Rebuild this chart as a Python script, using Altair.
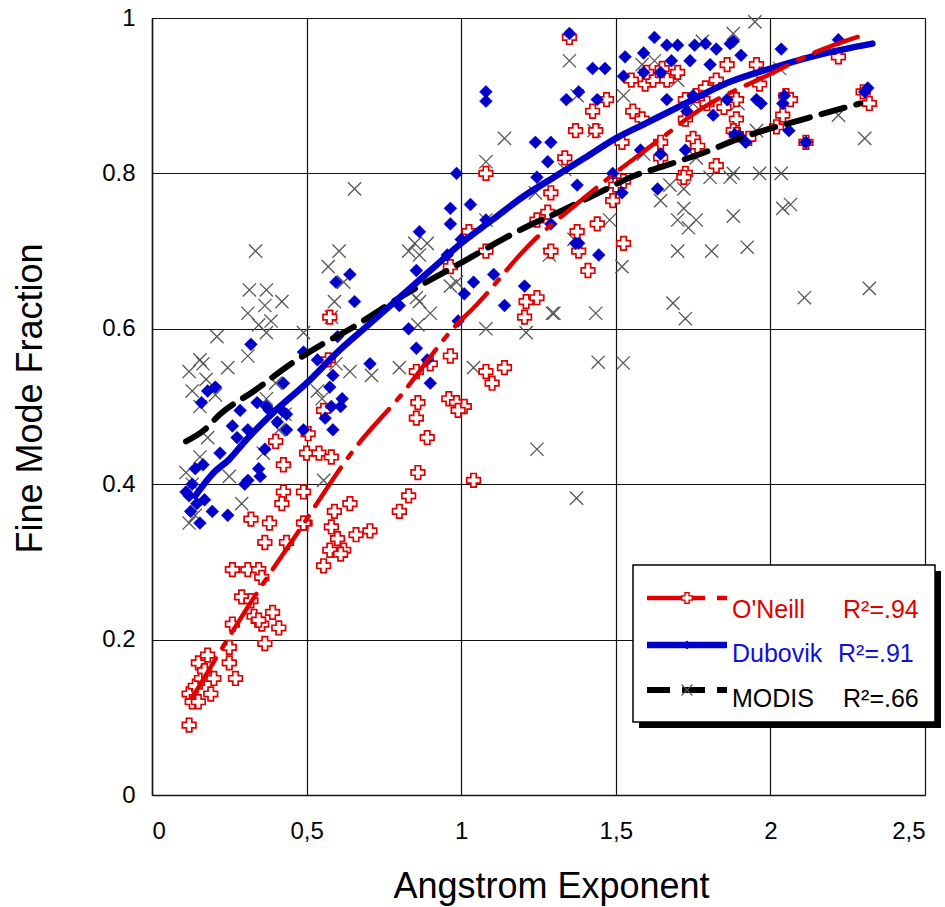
import altair as alt
import pandas as pd

# ---------------- data ----------------
oneill_x = [0.12, 0.12, 0.13, 0.15, 0.14, 0.16, 0.15, 0.18, 0.17, 0.19, 0.20, 0.25, 0.27, 0.25, 0.26,
            0.29, 0.32, 0.33, 0.355, 0.365, 0.39, 0.41, 0.345, 0.26, 0.31, 0.345, 0.355, 0.365, 0.435,
            0.38, 0.495, 0.58, 0.60, 0.575, 0.62, 0.555, 0.83, 0.80, 0.64, 0.59, 0.66, 0.705, 0.61,
            1.04, 1.21, 1.245, 1.205, 0.965, 0.90, 0.855, 1.14, 1.08, 1.10, 0.96, 0.985, 1.01, 0.99,
            0.86, 0.855, 0.89, 0.86, 0.57, 0.555, 0.505, 0.40, 0.50, 0.54, 0.58, 0.425, 0.425, 0.49,
            0.42, 0.32, 0.49, 0.575, 1.08, 1.37, 1.335, 1.29, 1.28, 1.245, 1.375, 1.29, 1.38, 1.025,
            1.08, 0.965, 1.35, 1.47, 1.425, 1.435, 1.44, 1.41, 1.525, 1.49, 1.50, 1.525, 1.52, 1.555,
            1.585, 1.645, 1.645, 1.725, 1.725, 1.75, 1.765, 1.825, 1.825, 1.595, 1.62, 1.665, 1.725,
            1.76, 1.79, 1.795, 1.85, 1.89, 1.86, 1.88, 1.72, 2.22, 2.32, 2.30, 2.05, 2.065, 2.02,
            2.04, 1.965, 1.955, 1.89, 1.93, 2.115, 1.89, 1.60, 1.65, 1.70, 1.55]
oneill_y = [0.09, 0.13, 0.12, 0.12, 0.14, 0.15, 0.17, 0.18, 0.16, 0.13, 0.15, 0.17, 0.15, 0.19, 0.22,
            0.255, 0.25, 0.23, 0.22, 0.195, 0.235, 0.215, 0.225, 0.29, 0.29, 0.29, 0.28, 0.325, 0.325,
            0.35, 0.35, 0.345, 0.33, 0.315, 0.315, 0.295, 0.385, 0.365, 0.375, 0.365, 0.335, 0.34, 0.31,
            0.405, 0.635, 0.64, 0.615, 0.565, 0.555, 0.545, 0.55, 0.545, 0.53, 0.51, 0.505, 0.50, 0.495,
            0.505, 0.485, 0.46, 0.415, 0.56, 0.495, 0.465, 0.455, 0.44, 0.44, 0.435, 0.425, 0.39, 0.39,
            0.375, 0.355, 0.35, 0.615, 0.80, 0.855, 0.82, 0.775, 0.75, 0.74, 0.725, 0.70, 0.70, 0.725,
            0.70, 0.68, 0.975, 0.895, 0.88, 0.855, 0.735, 0.675, 0.71, 0.765, 0.785, 0.79, 0.84, 0.88,
            0.87, 0.84, 0.82, 0.80, 0.87, 0.845, 0.835, 0.81, 0.92, 0.915, 0.92, 0.92, 0.895,
            0.90, 0.91, 0.89, 0.885, 0.87, 0.94, 0.855, 0.795, 0.95, 0.89, 0.905, 0.90, 0.895, 0.86,
            0.875, 0.915, 0.94, 0.85, 0.845, 0.84, 0.895, 0.93, 0.935, 0.93, 0.92]

dubovik_x = [0.32, 0.205, 0.18, 0.16, 0.285, 0.26, 0.31, 0.275, 0.34, 0.37, 0.38, 0.425, 0.42, 0.435,
             0.405, 0.435, 0.49, 0.535, 0.585, 0.575, 0.58, 0.56, 0.585, 0.49, 0.365, 0.345, 0.35,
             0.31, 0.165, 0.11, 0.12, 0.145, 0.125, 0.155, 0.195, 0.245, 0.60, 0.30, 0.22, 0.13,
             0.14, 0.17, 0.64, 0.595, 0.655, 0.80, 0.985, 1.24, 1.29, 1.28, 1.245, 1.375, 1.03,
             0.965, 0.965, 0.865, 1.08, 1.29, 1.37, 1.00, 0.955, 0.855, 1.105, 1.04, 1.01, 1.205,
             1.14, 0.99, 0.83, 0.855, 0.89, 0.90, 0.705, 0.615, 0.61, 1.35, 1.34, 1.38, 1.425,
             1.465, 1.44, 1.53, 1.525, 1.59, 1.625, 1.665, 1.70, 1.68, 1.755, 1.79, 1.825, 1.87,
             1.59, 1.645, 1.74, 1.805, 1.665, 1.73, 1.75, 1.815, 1.86, 1.885, 1.58, 1.645, 1.725,
             1.49, 1.52, 1.635, 1.38, 1.445, 2.22, 2.035, 1.905, 1.88, 2.315, 2.305, 1.955, 1.97,
             2.045, 2.04, 2.06, 1.90, 1.92, 2.115, 1.08, 1.08]
dubovik_y = [0.58, 0.525, 0.52, 0.505, 0.495, 0.475, 0.47, 0.46, 0.505, 0.50, 0.495, 0.53, 0.495, 0.49,
             0.48, 0.47, 0.57, 0.56, 0.54, 0.525, 0.50, 0.485, 0.47, 0.47, 0.445, 0.42, 0.41,
             0.405, 0.425, 0.39, 0.385, 0.375, 0.365, 0.35, 0.365, 0.36, 0.59, 0.40, 0.44, 0.40,
             0.42, 0.38, 0.67, 0.66, 0.635, 0.63, 0.80, 0.84, 0.84, 0.815, 0.795, 0.785, 0.76,
             0.755, 0.735, 0.725, 0.74, 0.735, 0.71, 0.715, 0.695, 0.675, 0.67, 0.66, 0.645, 0.655,
             0.63, 0.61, 0.60, 0.575, 0.56, 0.53, 0.555, 0.51, 0.50, 0.98, 0.895, 0.905, 0.935,
             0.935, 0.895, 0.95, 0.925, 0.955, 0.975, 0.965, 0.965, 0.945, 0.965, 0.967, 0.96, 0.967,
             0.93, 0.93, 0.945, 0.94, 0.895, 0.88, 0.90, 0.875, 0.895, 0.85, 0.83, 0.825, 0.83,
             0.80, 0.775, 0.78, 0.71, 0.695, 0.972, 0.96, 0.952, 0.97, 0.91, 0.905, 0.895, 0.89,
             0.90, 0.89, 0.855, 0.848, 0.84, 0.84, 0.905, 0.893]

modis_x = [0.655, 0.335, 0.605, 0.57, 0.62, 0.315, 0.37, 0.42, 0.365, 0.31, 0.59, 0.345, 0.385, 0.37,
           0.49, 0.58, 0.21, 0.155, 0.165, 0.12, 0.245, 0.31, 0.13, 0.175, 0.205, 0.155, 0.18, 0.155,
           0.11, 0.13, 0.12, 0.29, 0.25, 0.36, 0.43, 0.41, 0.535, 0.55, 0.595, 0.555, 0.14, 0.37,
           0.40, 0.865, 0.90, 0.86, 1.08, 1.21, 1.295, 0.80, 0.71, 0.64, 1.04, 1.245, 1.14, 1.08,
           1.24, 1.335, 1.365, 1.285, 1.08, 0.85, 0.89, 0.83, 0.865, 0.985, 0.965, 0.855, 1.35,
           1.375, 1.525, 1.585, 1.625, 1.78, 1.88, 1.52, 1.48, 1.645, 1.675, 1.72, 1.805, 1.87,
           1.72, 1.70, 1.76, 1.735, 1.88, 1.70, 1.81, 1.59, 1.76, 1.43, 1.95, 2.03, 2.22, 2.305,
           1.955, 1.895, 1.965, 2.035, 2.04, 2.065, 1.88, 1.925, 2.32, 2.11, 1.30, 1.435, 1.685,
           1.725, 1.443, 1.524, 1.373, 1.65, 1.70, 1.75]
modis_y = [0.78, 0.70, 0.70, 0.68, 0.66, 0.65, 0.65, 0.635, 0.63, 0.62, 0.635, 0.605, 0.61, 0.595,
           0.595, 0.615, 0.59, 0.56, 0.555, 0.545, 0.55, 0.565, 0.52, 0.535, 0.515, 0.50, 0.46, 0.435,
           0.415, 0.40, 0.35, 0.375, 0.41, 0.44, 0.49, 0.47, 0.52, 0.51, 0.555, 0.405, 0.36, 0.51,
           0.53, 0.635, 0.62, 0.605, 0.60, 0.595, 0.62, 0.55, 0.54, 0.545, 0.55, 0.445, 0.845, 0.815,
           0.775, 0.805, 0.715, 0.695, 0.74, 0.71, 0.71, 0.70, 0.695, 0.66, 0.655, 0.64, 0.945,
           0.90, 0.90, 0.94, 0.945, 0.97, 0.98, 0.68, 0.74, 0.765, 0.785, 0.78, 0.795, 0.795,
           0.755, 0.74, 0.74, 0.73, 0.745, 0.70, 0.70, 0.825, 0.82, 0.855, 0.995, 0.935, 0.875, 0.845,
           0.855, 0.89, 0.80, 0.80, 0.755, 0.76, 0.80, 0.705, 0.652, 0.64, 0.62, 0.62, 0.633,
           0.613, 0.557, 0.556, 0.382, 0.93, 0.92, 0.89]

# fitted curves
oneill_fit_x = [0.13, 0.21, 0.31, 0.47, 0.66, 0.80, 0.98, 1.05, 1.23, 1.35, 1.48, 1.62, 1.78, 2.00, 2.14, 2.30]
oneill_fit_y = [0.125, 0.178, 0.242, 0.337, 0.448, 0.512, 0.603, 0.631, 0.712, 0.753, 0.795, 0.837, 0.884, 0.928, 0.955, 0.978]

dubovik_fit_x = [0.14, 0.20, 0.25, 0.30, 0.40, 0.50, 0.60, 0.70, 0.80, 0.90, 1.00, 1.10, 1.20, 1.30, 1.40,
                 1.50, 1.60, 1.70, 1.87, 2.00, 2.15, 2.33]
dubovik_fit_y = [0.385, 0.415, 0.432, 0.455, 0.495, 0.53, 0.57, 0.605, 0.64, 0.675, 0.71, 0.74, 0.77, 0.795,
                 0.82, 0.845, 0.865, 0.885, 0.918, 0.935, 0.952, 0.967]

modis_fit_x = [0.11, 0.17, 0.22, 0.33, 0.45, 0.55, 0.62, 0.80, 1.00, 1.21, 1.33, 1.44, 1.56, 1.66, 1.78, 1.90, 2.10, 2.29]
modis_fit_y = [0.455, 0.47, 0.49, 0.52, 0.555, 0.58, 0.595, 0.64, 0.685, 0.731, 0.753, 0.774, 0.797, 0.81, 0.826, 0.845, 0.869, 0.89]

x_ticks = [0, 0.5, 1, 1.5, 2, 2.5]
y_ticks = [0, 0.2, 0.4, 0.6, 0.8, 1]

legend_names = ["O'Neill", "Dubovik", "MODIS"]
legend_r2 = ["R\u00b2=.94", "R\u00b2=.91", "R\u00b2=.66"]

RED = "#e00000"
BLUE = "#0000c8"
GRAY = "#555555"
FONT = "Liberation Sans"

W, H = 773, 777


def frame(xs, ys):
    return pd.DataFrame({"x": xs, "y": ys})


xscale = alt.Scale(domain=[0, 2.5], nice=False, zero=False)
yscale = alt.Scale(domain=[0, 1], nice=False, zero=False)

xenc = alt.X("x:Q", scale=xscale, axis=alt.Axis(
    values=x_ticks, title="Angstrom Exponent",
    labelExpr="replace(format(datum.value, '~g'), '.', ',')",
    grid=True, gridColor="#111111", gridWidth=1.2, gridOpacity=1,
    domainColor="#111111", domainWidth=1.5, ticks=False,
    labelFontSize=24, labelPadding=24, labelColor="black", labelFont=FONT,
    titleFontSize=36, titleFontWeight="normal", titleColor="black", titleFont=FONT,
    titleX=399, titleY=91, titleBaseline="middle", titleAlign="center"))
yenc = alt.Y("y:Q", scale=yscale, axis=alt.Axis(
    values=y_ticks, title="Fine Mode Fraction",
    labelExpr="format(datum.value, '~g')",
    grid=True, gridColor="#111111", gridWidth=1.2, gridOpacity=1,
    domainColor="#111111", domainWidth=1.5, ticks=False,
    labelFontSize=24, labelPadding=17, labelColor="black", labelFont=FONT,
    titleFontSize=36, titleFontWeight="normal", titleColor="black", titleFont=FONT,
    titleX=-122, titleY=380, titleAngle=-90, titleBaseline="middle", titleAlign="center"))

modis_pts = alt.Chart(frame(modis_x, modis_y)).mark_point(
    shape="M-1,-1L1,1M1,-1L-1,1", filled=False, stroke=GRAY, strokeWidth=1.3, size=175, opacity=1
).encode(x=xenc, y=yenc)

oneill_pts = alt.Chart(frame(oneill_x, oneill_y)).mark_point(
    shape="cross", filled=True, fill="white", stroke=RED, strokeWidth=1.7, size=185, opacity=1, fillOpacity=1
).encode(x=xenc, y=yenc)

dubovik_pts = alt.Chart(frame(dubovik_x, dubovik_y)).mark_point(
    shape="diamond", filled=True, fill=BLUE, stroke=BLUE, strokeWidth=0.5, size=165, opacity=1, fillOpacity=1
).encode(x=xenc, y=yenc)

modis_line = alt.Chart(frame(modis_fit_x, modis_fit_y)).mark_line(
    color="black", strokeWidth=6, strokeDash=[24, 12], interpolate="monotone", strokeCap="round"
).encode(x=xenc, y=yenc)

dubovik_line = alt.Chart(frame(dubovik_fit_x, dubovik_fit_y)).mark_line(
    color=BLUE, strokeWidth=6.5, interpolate="monotone", strokeCap="round"
).encode(x=xenc, y=yenc)

oneill_line = alt.Chart(frame(oneill_fit_x, oneill_fit_y)).mark_line(
    color=RED, strokeWidth=4.5, strokeDash=[46, 12, 6, 12], interpolate="monotone", strokeCap="round"
).encode(x=xenc, y=yenc)

# ---------------- legend box (pixel layout) ----------------
one = pd.DataFrame({"k": [0]})
BX0, BX1, BY0, BY1 = 481, 783, 547, 704
shadow = alt.Chart(one).mark_rect(color="black").encode(
    x=alt.value(BX0 + 6), x2=alt.value(BX1 + 6), y=alt.value(BY0 + 6), y2=alt.value(BY1 + 6))
box = alt.Chart(one).mark_rect(fill="white", stroke="black", strokeWidth=1.5).encode(
    x=alt.value(BX0), x2=alt.value(BX1), y=alt.value(BY0), y2=alt.value(BY1))

LX0, LX1, MX = 495, 575, 535
rows_y = [580, 627, 672]
base_y = [600, 644, 689]
text_colors = [RED, "#1010d8", "black"]
r2_x = [691, 686, 691]

leg_layers = [shadow, box]
leg_layers.append(alt.Chart(one).mark_rule(color=RED, strokeWidth=4.5, strokeDash=[58, 12, 10, 12]).encode(
    x=alt.value(LX0), x2=alt.value(LX1), y=alt.value(rows_y[0])))
leg_layers.append(alt.Chart(one).mark_point(shape="cross", filled=True, fill="white", stroke=RED,
                                            strokeWidth=1.4, size=110, opacity=1).encode(
    x=alt.value(MX), y=alt.value(rows_y[0])))
leg_layers.append(alt.Chart(one).mark_rule(color=BLUE, strokeWidth=6.5).encode(
    x=alt.value(LX0), x2=alt.value(LX1), y=alt.value(rows_y[1])))
leg_layers.append(alt.Chart(one).mark_point(shape="diamond", filled=True, fill=BLUE, size=80, opacity=1).encode(
    x=alt.value(MX), y=alt.value(rows_y[1])))
leg_layers.append(alt.Chart(one).mark_rule(color="black", strokeWidth=6, strokeDash=[23, 12]).encode(
    x=alt.value(LX0), x2=alt.value(LX1), y=alt.value(rows_y[2])))
leg_layers.append(alt.Chart(one).mark_point(shape="M-1,-1L1,1M1,-1L-1,1", filled=False, stroke=GRAY,
                                            strokeWidth=1.2, size=120, opacity=1).encode(
    x=alt.value(MX), y=alt.value(rows_y[2])))
for i in range(3):
    leg_layers.append(alt.Chart(one).mark_text(
        text=legend_names[i], font=FONT, fontSize=25, color=text_colors[i], align="left", baseline="alphabetic"
    ).encode(x=alt.value(580), y=alt.value(base_y[i])))
    leg_layers.append(alt.Chart(one).mark_text(
        text=legend_r2[i], font=FONT, fontSize=25, color=text_colors[i], align="left", baseline="alphabetic"
    ).encode(x=alt.value(r2_x[i]), y=alt.value(base_y[i])))

chart = alt.layer(
    modis_pts, oneill_pts, dubovik_pts, modis_line, dubovik_line, oneill_line, *leg_layers
).properties(
    width=W, height=H,
    padding={"left": 152, "top": 18, "right": 20, "bottom": 112},
    autosize=alt.AutoSizeParams(type="none"),
    background="white",
).configure_view(strokeWidth=0).configure(font=FONT)

chart.save("out.html", embed_options={"renderer": "svg", "actions": False})
